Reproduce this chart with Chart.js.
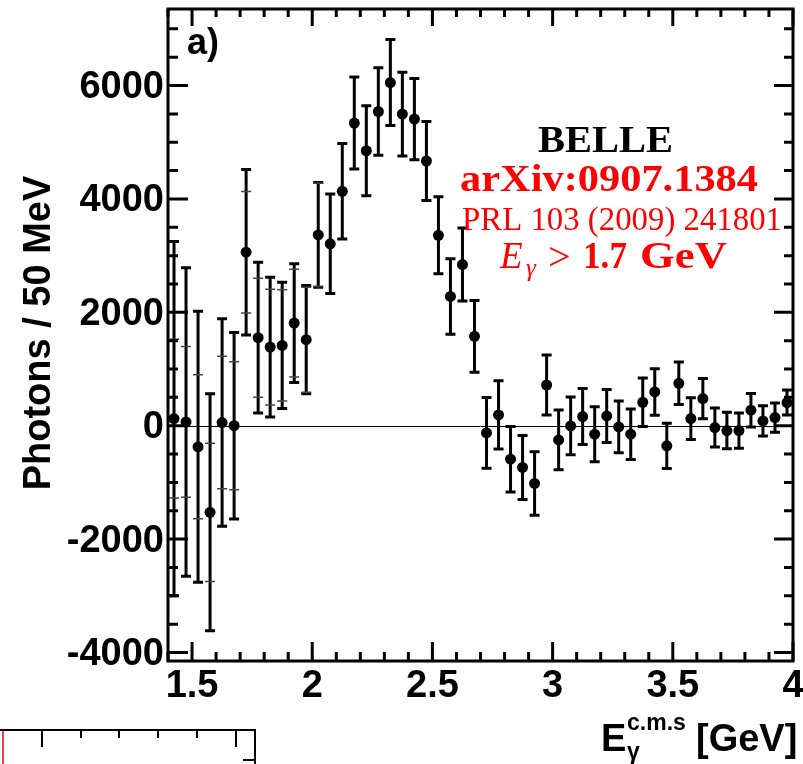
<!DOCTYPE html>
<html>
<head>
<meta charset="utf-8">
<title>Photons / 50 MeV</title>
<script src="https://cdn.jsdelivr.net/npm/chart.js@4.4.1/dist/chart.umd.min.js"></script>
<style>
  html, body { margin: 0; padding: 0; background: #fff; }
  canvas { display: block; }
</style>
</head>
<body>
<canvas id="grafica" width="803" height="764"></canvas>
<script>
// ===============================
// DATOS
// ===============================

const binCenters = [
    1.425, 1.475, 1.525, 1.575, 1.625, 1.675, 1.725, 1.775, 1.825, 1.875,
    1.925, 1.975, 2.025, 2.075, 2.125, 2.175, 2.225, 2.275, 2.325, 2.375,
    2.425, 2.475, 2.525, 2.575, 2.625, 2.675, 2.725, 2.775, 2.825, 2.875,
    2.925, 2.975, 3.025, 3.075, 3.125, 3.175, 3.225, 3.275, 3.325, 3.375,
    3.425, 3.475, 3.525, 3.575, 3.625, 3.675, 3.725, 3.775, 3.825, 3.875,
    3.925, 3.975
];

const photons = [
    126, 67, -373, -1528, 56, 0, 3060, 1553, 1387, 1417,
    1810, 1518, 3366, 3208, 4134, 5338, 4850, 5542, 6053, 5496,
    5408, 4669, 3359, 2280, 2843, 1576, -127, 190, -590, -736,
    -1018, 718, -250, -3, 162, -150, 173, -21, -150, 414,
    596, -355, 748, 126, 478, -32, -85, -85, 273, 85,
    144, 408
];

// error total (barras con tope)
const errTotal = [
    3125, 2720, 2390, 2090, 1830, 1645, 1460, 1330, 1233, 1115,
    1046, 956, 924, 877, 842, 812, 792, 771, 757, 740,
    718, 695, 680, 667, 645, 631, 625, 601, 578, 564,
    560, 528, 525, 510, 493, 484, 467, 458, 446, 428,
    410, 399, 375, 367, 355, 343, 322, 311, 297, 265,
    258, 220
];

// error estadístico (marcas grises interiores)
const errStat = [
    1400, 1330, 1270, 1220, 1170, 1130, 1070, 1050, 1021, 981,
    951, 926, 910
];

const xTicks = [1.5, 2, 2.5, 3, 3.5, 4];
const xTickLabels = ["1.5", "2", "2.5", "3", "3.5", "4"];
const yTicks = [-4000, -2000, 0, 2000, 4000, 6000];
const yTickLabels = ["-4000", "-2000", "0", "2000", "4000", "6000"];

const puntos = binCenters.map((x, i) => ({ x: x, y: photons[i] }));

const SANS = '"Liberation Sans", Arial, sans-serif';
const SERIF = '"Liberation Serif", "Times New Roman", serif';


// texto estirado horizontalmente hasta un ancho dado
function textoAncho(ctx, texto, x, y, ancho) {
    const w = ctx.measureText(texto).width;
    ctx.save();
    ctx.translate(x, y);
    ctx.scale(ancho / w, 1);
    ctx.textAlign = "left";
    ctx.fillText(texto, 0, 0);
    ctx.restore();
}


// ===============================
// ESTILO ROOT: marco, ticks, errores
// ===============================

const estiloRoot = {

    id: "estiloRoot",

    beforeDatasetsDraw(chart) {

        const ctx = chart.ctx;
        const a = chart.chartArea;
        const xs = chart.scales.x;
        const ys = chart.scales.y;

        // linea en cero
        ctx.save();
        ctx.strokeStyle = "#000";
        ctx.lineWidth = 1;
        ctx.beginPath();
        ctx.moveTo(a.left, Math.round(ys.getPixelForValue(0)) + 0.5);
        ctx.lineTo(a.right, Math.round(ys.getPixelForValue(0)) + 0.5);
        ctx.stroke();

        // barras de error
        binCenters.forEach((x, i) => {

            const px = xs.getPixelForValue(x);
            const arriba = ys.getPixelForValue(photons[i] + errTotal[i]);
            const abajo = ys.getPixelForValue(photons[i] - errTotal[i]);

            ctx.strokeStyle = "#000";
            ctx.lineWidth = 3;
            ctx.beginPath();
            ctx.moveTo(px, arriba);
            ctx.lineTo(px, abajo);
            ctx.moveTo(px - 5, arriba);
            ctx.lineTo(px + 5, arriba);
            ctx.moveTo(px - 5, abajo);
            ctx.lineTo(px + 5, abajo);
            ctx.stroke();

            if (errStat[i] !== undefined) {
                const sa = ys.getPixelForValue(photons[i] + errStat[i]);
                const sb = ys.getPixelForValue(photons[i] - errStat[i]);
                ctx.strokeStyle = "#444";
                ctx.lineWidth = 1.5;
                ctx.beginPath();
                ctx.moveTo(px - 5, sa);
                ctx.lineTo(px + 5, sa);
                ctx.moveTo(px - 5, sb);
                ctx.lineTo(px + 5, sb);
                ctx.stroke();
            }

        });

        ctx.restore();

    },

    afterDraw(chart) {

        const ctx = chart.ctx;
        const a = chart.chartArea;
        const xs = chart.scales.x;
        const ys = chart.scales.y;

        ctx.save();
        ctx.strokeStyle = "#000";
        ctx.fillStyle = "#000";
        ctx.lineWidth = 3;

        // marco
        ctx.strokeRect(a.left, a.top, a.right - a.left, a.bottom - a.top);

        // ticks eje x (abajo y arriba)
        ctx.beginPath();
        for (let k = 14; k <= 40; k++) {
            const px = xs.getPixelForValue(k / 10);
            const mayor = (k % 5 === 0);
            ctx.moveTo(px, a.bottom);
            ctx.lineTo(px, a.bottom - (mayor ? 19 : 9));
            ctx.moveTo(px, a.top);
            ctx.lineTo(px, a.top + (mayor ? 17 : 8));
        }

        // ticks eje y (izquierda y derecha)
        for (let k = -8; k <= 14; k++) {
            const py = ys.getPixelForValue(k * 500);
            const mayor = (k % 4 === 0);
            ctx.moveTo(a.left, py);
            ctx.lineTo(a.left + (mayor ? 20 : 10), py);
            ctx.moveTo(a.right, py);
            ctx.lineTo(a.right - (mayor ? 19 : 9), py);
        }
        ctx.stroke();

        // etiquetas
        ctx.font = "bold 38px " + SANS;
        ctx.textBaseline = "middle";
        ctx.textAlign = "right";
        yTicks.forEach((v, i) => {
            ctx.fillText(yTickLabels[i], 164, ys.getPixelForValue(v) + 2);
        });

        ctx.textBaseline = "alphabetic";
        ctx.textAlign = "center";
        xTicks.forEach((v, i) => {
            ctx.fillText(xTickLabels[i], xs.getPixelForValue(v), 697);
        });

        // titulo eje y
        ctx.save();
        ctx.translate(50, 333);
        ctx.rotate(-Math.PI / 2);
        ctx.textAlign = "center";
        ctx.fillText("Photons / 50 MeV", 0, 0);
        ctx.restore();

        // titulo eje x
        ctx.textAlign = "left";
        ctx.font = "bold 38px " + SANS;
        ctx.fillText("E", 601, 751);
        ctx.font = "bold 23px " + SANS;
        ctx.fillText("c.m.s", 627, 730);
        ctx.fillText("γ", 627, 759);
        ctx.font = "bold 38px " + SANS;
        ctx.fillText("[GeV]", 696, 751);

        // a)
        ctx.font = "bold 36px " + SANS;
        ctx.fillText("a)", 187, 54);

        // textos de la colaboración
        ctx.fillStyle = "#000";
        ctx.font = "bold 37px " + SERIF;
        textoAncho(ctx, "BELLE", 538, 152, 135);

        ctx.fillStyle = "#ff0000";
        ctx.font = "bold 37px " + SERIF;
        textoAncho(ctx, "arXiv:0907.1384", 460, 191, 298);

        ctx.font = "33px " + SERIF;
        textoAncho(ctx, "PRL 103 (2009) 241801", 462, 230, 320);

        ctx.font = "italic 37px " + SERIF;
        ctx.fillText("E", 500, 268);
        ctx.font = "italic 25px " + SERIF;
        ctx.fillText("γ", 526, 276);
        ctx.font = "40px " + SERIF;
        ctx.fillText(">", 548, 270);
        ctx.font = "bold 37px " + SERIF;
        textoAncho(ctx, "1.7", 583, 268, 44);
        textoAncho(ctx, "GeV", 640, 268, 87);

        // panel vecino (recortado, abajo a la izquierda)
        ctx.strokeStyle = "#000";
        ctx.lineWidth = 2;
        ctx.beginPath();
        ctx.moveTo(0, 730);
        ctx.lineTo(255, 730);
        ctx.lineTo(255, 764);
        [42, 236].forEach(x => { ctx.moveTo(x, 730); ctx.lineTo(x, 747); });
        [81, 119, 158, 197].forEach(x => { ctx.moveTo(x, 730); ctx.lineTo(x, 738); });
        ctx.moveTo(243, 760);
        ctx.lineTo(255, 760);
        ctx.stroke();
        ctx.strokeStyle = "#f04040";
        ctx.beginPath();
        ctx.moveTo(3, 731);
        ctx.lineTo(3, 764);
        ctx.stroke();

        ctx.restore();

    }

};


// ===============================
// GRÁFICA
// ===============================

new Chart(document.getElementById("grafica"), {

    type: "scatter",

    data: {
        datasets: [{
            label: "Photons",
            data: puntos,
            pointRadius: 5.5,
            pointHoverRadius: 5.5,
            pointBackgroundColor: "#000",
            pointBorderWidth: 0,
            borderColor: "#000"
        }]
    },

    options: {

        responsive: false,
        animation: false,
        events: [],

        layout: {
            padding: { left: 168, top: 9, right: 10, bottom: 103 }
        },

        plugins: {
            legend: { display: false },
            tooltip: { enabled: false }
        },

        scales: {
            x: { type: "linear", min: 1.4, max: 4.0, display: false },
            y: { type: "linear", min: -4150, max: 7350, display: false }
        }

    },

    plugins: [estiloRoot]

});
</script>
</body>
</html>
